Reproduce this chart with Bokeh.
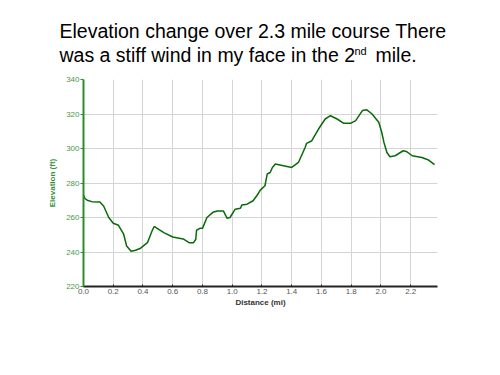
from bokeh.plotting import figure
from bokeh.models import FixedTicker, NumeralTickFormatter, Range1d
from bokeh.layouts import column
from bokeh.core.properties import value
from bokeh.embed import file_html
from bokeh.resources import INLINE

distance = [0.00, 0.01, 0.025, 0.056, 0.11, 0.135, 0.17, 0.20, 0.235, 0.27, 0.29, 0.32, 0.35, 0.38,
            0.43, 0.46, 0.475, 0.49, 0.54, 0.60, 0.67, 0.71, 0.74, 0.755, 0.76, 0.785, 0.80, 0.83,
            0.87, 0.90, 0.94, 0.965, 0.985, 1.02, 1.055, 1.065, 1.10, 1.14, 1.165, 1.19, 1.22,
            1.235, 1.255, 1.27, 1.29, 1.345, 1.40, 1.445, 1.49, 1.50, 1.535, 1.58, 1.625, 1.66,
            1.705, 1.75, 1.795, 1.83, 1.875, 1.905, 1.94, 1.985, 2.005, 2.02, 2.04, 2.06, 2.095,
            2.15, 2.17, 2.21, 2.275, 2.32, 2.36]
elevation = [273.0, 271.0, 270.0, 269.2, 269.0, 266.7, 260.0, 256.7, 255.5, 250.3, 243.5, 240.4,
             241.0, 242.0, 245.4, 252.0, 254.8, 254.0, 251.2, 248.7, 247.6, 245.4, 245.4, 247.4,
             252.6, 253.8, 253.7, 260.0, 263.0, 263.8, 263.8, 259.6, 260.0, 264.8, 265.4, 267.3,
             267.7, 269.7, 272.6, 276.0, 278.4, 285.2, 286.1, 289.0, 291.0, 290.0, 289.0, 291.9,
             300.6, 303.0, 304.5, 311.3, 317.1, 319.0, 317.1, 314.6, 314.6, 316.2, 322.0, 322.4,
             320.0, 315.2, 309.4, 303.5, 297.7, 295.2, 295.8, 298.7, 298.3, 295.8, 294.8, 293.3,
             290.6]
x_ticks = [0.0, 0.2, 0.4, 0.6, 0.8, 1.0, 1.2, 1.4, 1.6, 1.8, 2.0, 2.2]
y_ticks = [220, 240, 260, 280, 300, 320, 340]
title_parts = ["Elevation change over 2.3 mile course  There",
               "was a stiff wind in my face in the 2", "nd", "mile."]
x_label = "Distance (mi)"
y_label = "Elevation (ft)"

# layout (pixels)
W = 492
TH = 70                      # height of the title strip
BL, BT = 83, 79              # frame left / top on the page
FW, FH = 354, 207            # frame size
H2 = 367 - TH
BR, BB = W - BL - FW, H2 - (BT - TH) - FH
tfont = "Liberation Sans"

# ---- title strip: a bare figure whose frame spans the whole strip, 1 unit = 1 px
t = figure(width=W, height=TH, output_backend="svg", toolbar_location=None,
           x_range=Range1d(0, W), y_range=Range1d(TH, 0),
           x_axis_type=None, y_axis_type=None,
           min_border=0, min_border_left=0, min_border_right=0,
           min_border_top=0, min_border_bottom=0)
t.outline_line_color = None
t.grid.visible = False
t.title_location = None
title_x = [59, 59, 354, 375]
title_y = [30.2, 54.8, 50.0, 54.8]
title_size = ["19.5px", "19.5px", "11px", "19.5px"]
t.text(x=title_x, y=title_y, text=title_parts, text_font=value(tfont),
       text_font_size=title_size, text_color="#000000", text_baseline="alphabetic",
       text_align="left")

# ---- chart
X0, X1 = 0.0, 2.38
Y0, Y1 = 220, 340
p = figure(width=W, height=H2, output_backend="svg", toolbar_location=None,
           x_range=Range1d(X0, X1), y_range=Range1d(Y0, Y1),
           min_border_left=BL, min_border_right=BR, min_border_top=BT - TH,
           min_border_bottom=BB)
p.title_location = None
p.outline_line_color = None
p.background_fill_color = "white"
p.border_fill_color = "white"

# keep the two figures' frames independent of each other
for fig in (t, p):
    try:
        fig.frame_align = False
    except Exception:
        pass

p.line(distance, elevation, line_color="#0a6a0a", line_width=1.5)

p.xaxis.ticker = FixedTicker(ticks=x_ticks)
p.xaxis.formatter = NumeralTickFormatter(format="0.0")
p.yaxis.ticker = FixedTicker(ticks=y_ticks)
p.xaxis.minor_tick_line_color = None
p.yaxis.minor_tick_line_color = None

p.xaxis.axis_line_color = "#222222"
p.xaxis.axis_line_width = 2
p.xaxis.major_tick_line_color = "#222222"
p.xaxis.major_tick_in = 2
p.xaxis.major_tick_out = 0
p.xaxis.major_label_text_font = tfont
p.xaxis.major_label_text_font_size = "8px"
p.xaxis.major_label_text_color = "#555555"
p.xaxis.major_label_standoff = 2
p.xaxis.axis_label = x_label
p.xaxis.axis_label_text_font = tfont
p.xaxis.axis_label_text_font_size = "8px"
p.xaxis.axis_label_text_font_style = "bold"
p.xaxis.axis_label_text_color = "#333333"
p.xaxis.axis_label_standoff = 1

p.yaxis.axis_line_color = "#2e8b2e"
p.yaxis.axis_line_width = 2
p.yaxis.major_tick_line_color = "#2e8b2e"
p.yaxis.major_tick_in = 0
p.yaxis.major_tick_out = 3
p.yaxis.major_label_text_font = tfont
p.yaxis.major_label_text_font_size = "8px"
p.yaxis.major_label_text_color = "#4a9a4a"
p.yaxis.major_label_standoff = 1
p.yaxis.axis_label = y_label
p.yaxis.axis_label_text_font = tfont
p.yaxis.axis_label_text_font_size = "8px"
p.yaxis.axis_label_text_font_style = "bold"
p.yaxis.axis_label_text_color = "#3a8f3a"
p.yaxis.axis_label_standoff = 6

p.xgrid.grid_line_color = "#d4d4d4"
p.ygrid.grid_line_color = "#d4d4d4"
p.xgrid.grid_line_width = 1
p.ygrid.grid_line_width = 1

layout = column(t, p, spacing=0)
open("out.html", "w").write(file_html(layout, INLINE))
